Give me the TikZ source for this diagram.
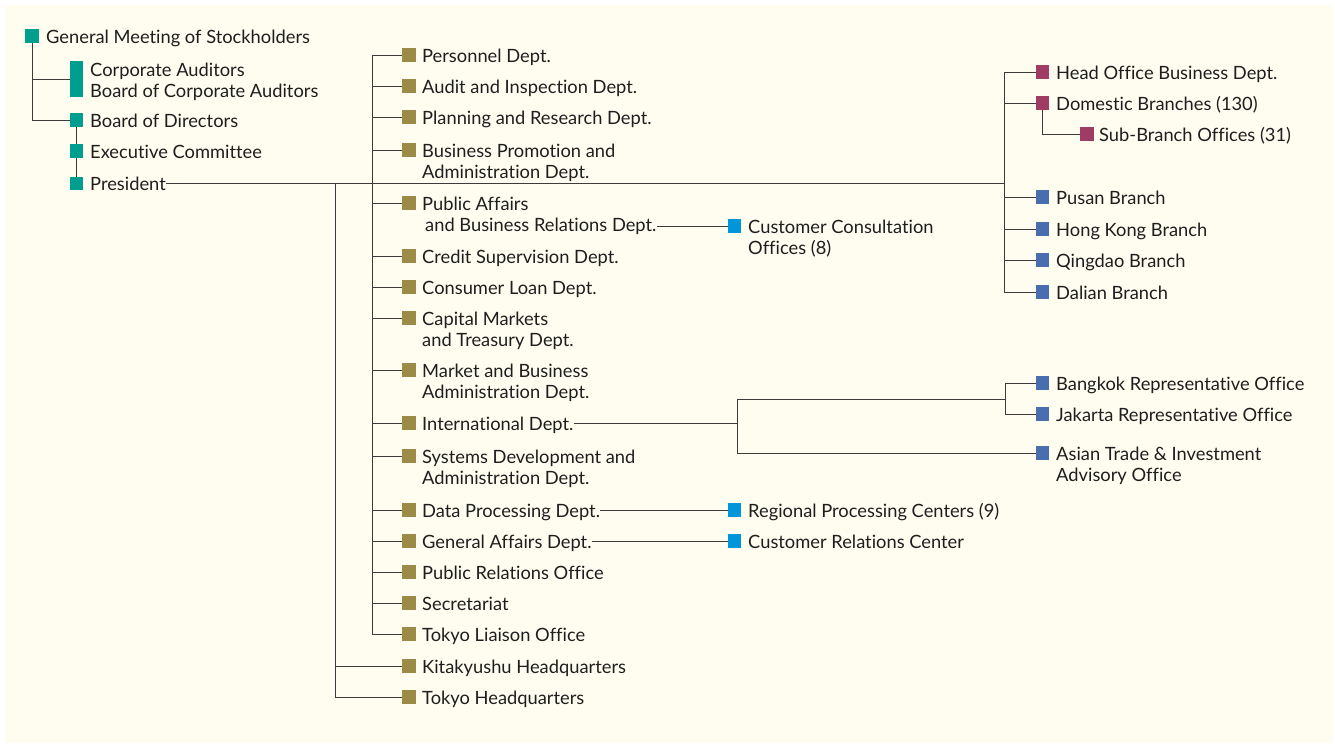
\documentclass[tikz,border=0pt]{standalone}
\usepackage{fontspec}
\setmainfont{Lato}[Ligatures=NoCommon]
\usetikzlibrary{calc}

\definecolor{cream}{RGB}{255,253,240}
\definecolor{ink}{RGB}{30,30,30}
\definecolor{wire}{RGB}{60,60,60}
\definecolor{teal}{RGB}{0,158,142}
\definecolor{olive}{RGB}{155,139,71}
\definecolor{plum}{RGB}{160,60,100}
\definecolor{steel}{RGB}{72,110,176}
\definecolor{sky}{RGB}{0,150,220}

\tikzset{
    sq/.style={rectangle, minimum size=13.5pt, inner sep=0pt},
    lbl/.style={anchor=base west, inner sep=0pt, align=left, text=ink,
        font=\fontsize{18.3}{21.5}\selectfont},
    ln/.style={draw=wire, line width=0.9pt}
}

\begin{document}
\begin{tikzpicture}[x=1pt, y=-1pt]
    \useasboundingbox (0,0) rectangle (1335,745);
    \fill[cream] (5,5) rectangle (1333,743);
    % bus lines
    \coordinate (busA) at (335,0);
    \coordinate (busB) at (372,0);
    \coordinate (busC) at (1004,0);
    \coordinate (jn) at (737,0);
    \coordinate (repj) at (1005,399);
    % top management
    \node[sq, fill=teal] (gm) at (32,36) {};
    \node[lbl] (gm-t) at (46,43) {General Meeting of Stockholders};
    \node[sq, fill=teal, minimum height=36pt] (aud) at (76.7,79) {};
    \node[lbl] (aud-t) at (90,97.5) {Corporate Auditors\\Board of Corporate Auditors};
    \node[sq, fill=teal] (bod) at (76.7,120) {};
    \node[lbl] (bod-t) at (90,127) {Board of Directors};
    \node[sq, fill=teal] (exec) at (76.7,151) {};
    \node[lbl] (exec-t) at (90,158) {Executive Committee};
    \node[sq, fill=teal] (pres) at (76.7,183.5) {};
    \node[lbl] (pres-t) at (90,190) {President};
    \draw[ln] (gm.south) |- (bod.west);
    \draw[ln] (gm.south |- aud.west) -- (aud.west);
    \draw[ln] (bod.south) -- (exec.north);
    \draw[ln] (exec.south) -- (pres.north);
    \draw[ln] (pres-t.east) -- (pres-t.east -| busC);
    % departments
    \foreach \n/\y/\l/\b/\t in {pers/55/0/busB/{Personnel Dept.},
        audit/86/0/busB/{Audit and Inspection Dept.},
        plan/117/0/busB/{Planning and Research Dept.},
        bprom/150/1/busB/{Business Promotion and\\Administration Dept.},
        pub/203/1/busB/{Public Affairs\\\hspace*{3pt}and Business Relations Dept.},
        credit/256/0/busB/{Credit Supervision Dept.},
        cons/287/0/busB/{Consumer Loan Dept.},
        cap/318/1/busB/{Capital Markets\\and Treasury Dept.},
        mkt/370/1/busB/{Market and Business\\Administration Dept.},
        intl/423/0/busB/{International Dept.},
        sys/456/1/busB/{Systems Development and\\Administration Dept.},
        data/510/0/busB/{Data Processing Dept.},
        gen/541/0/busB/{General Affairs Dept.},
        pr/572/0/busB/{Public Relations Office},
        sec/603/0/busB/{Secretariat},
        liais/634/0/busB/{Tokyo Liaison Office},
        kita/666/0/busA/{Kitakyushu Headquarters},
        thq/697/0/busA/{Tokyo Headquarters}}{
        \node[sq, fill=olive] (\n) at (409,\y) {};
        \node[lbl] (\n-t) at (422,\y+7+21.5*\l) {\t};
        \draw[ln] (\n.west -| \b) -- (\n.west);
    }
    \draw[ln] (pers.west -| busB) -- (liais.west -| busB);
    \draw[ln] (pres-t.east -| busA) |- (thq.west);
    % offices under departments
    \foreach \n/\y/\l/\t in {cco/226/1/{Customer Consultation\\Offices (8)},
        rpc/510/0/{Regional Processing Centers (9)},
        crc/541/0/{Customer Relations Center}}{
        \node[sq, fill=sky] (\n) at (734.5,\y) {};
        \node[lbl] (\n-t) at (748,\y+7+21.5*\l) {\t};
    }
    \draw[ln] (cco.west -| pub-t.east) -- (cco.west);
    \draw[ln] (rpc.west -| data-t.east) -- (rpc.west);
    \draw[ln] (crc.west -| gen-t.east) -- (crc.west);
    % branches and overseas offices
    \foreach \n/\y/\l/\c/\t in {hob/72/0/plum/{Head Office Business Dept.},
        dom/103/0/plum/{Domestic Branches (130)},
        pusan/197/0/steel/{Pusan Branch},
        hk/229/0/steel/{Hong Kong Branch},
        qing/260/0/steel/{Qingdao Branch},
        dal/292/0/steel/{Dalian Branch},
        bkk/383/0/steel/{Bangkok Representative Office},
        jak/414/0/steel/{Jakarta Representative Office},
        atia/453/1/steel/{Asian Trade \& Investment\\Advisory Office}}{
        \node[sq, fill=\c] (\n) at (1042.7,\y) {};
        \node[lbl] (\n-t) at (1056,\y+7+21.5*\l) {\t};
    }
    \node[sq, fill=plum] (sub) at (1087,134) {};
    \node[lbl] (sub-t) at (1099,141) {Sub-Branch Offices (31)};
    \draw[ln] (hob.west -| busC) -- (dal.west -| busC);
    \foreach \n in {hob, dom, pusan, hk, qing, dal}
        \draw[ln] (\n.west -| busC) -- (\n.west);
    \draw[ln] (dom.south) |- (sub.west);
    \draw[ln] (bkk.west -| repj) |- (jak.west);
    \draw[ln] (bkk.west -| repj) -- (bkk.west);
    \draw[ln] (intl.east -| intl-t.east) -- (intl.east -| jn);
    \draw[ln] (repj) -- (repj -| jn) |- (atia.west);
\end{tikzpicture}
\end{document}
